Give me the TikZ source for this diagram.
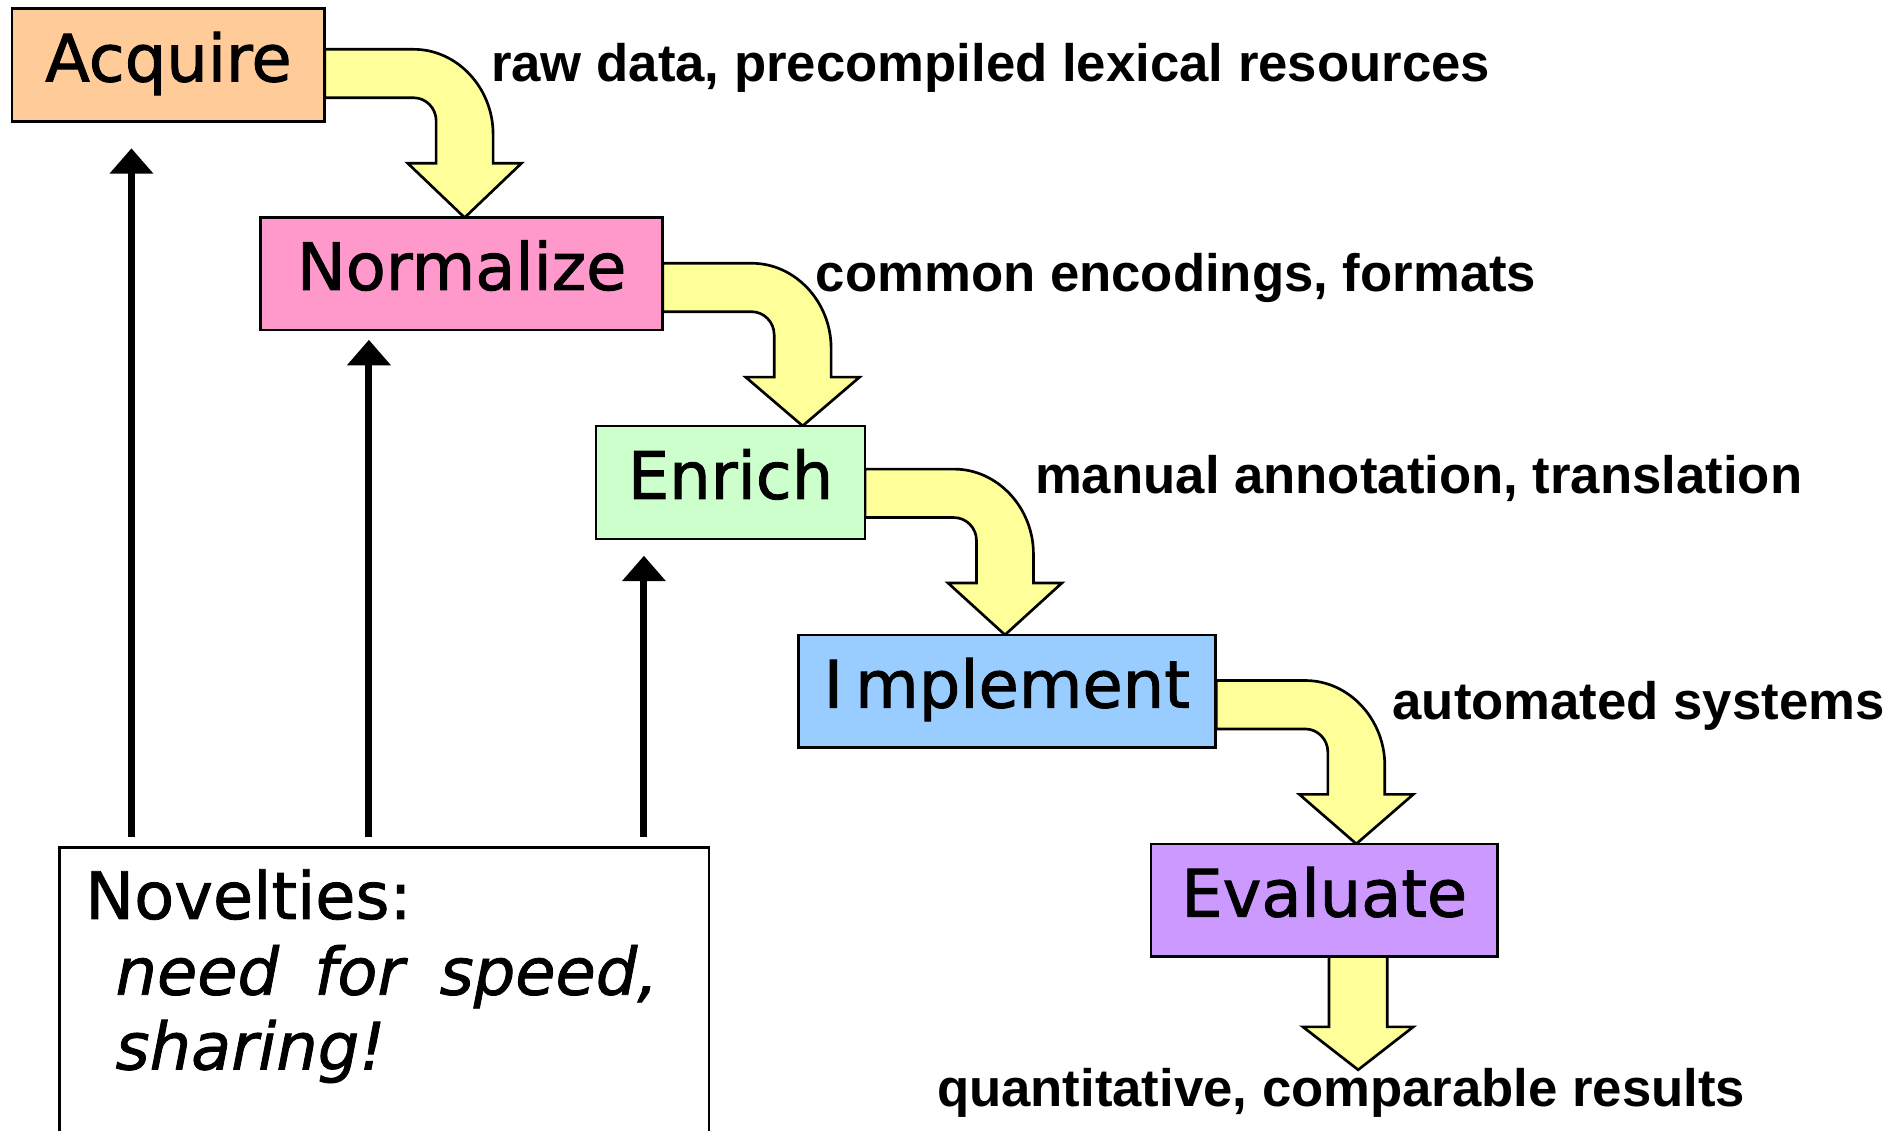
\documentclass[tikz,border=0pt]{standalone}
\usepackage{fontspec}
\setmainfont{DejaVu Sans}[FakeBold=1.4]
\newfontfamily\boxfont{DejaVu Sans}[FakeBold=1.4]
\newfontfamily\novfont{DejaVu Sans}[FakeBold=1.2, WordSpace=1.7]
\newfontfamily\lblfont{Liberation Sans}
\usetikzlibrary{arrows.meta}

\definecolor{acqc}{HTML}{FFCC99}
\definecolor{normc}{HTML}{FF99CC}
\definecolor{enrc}{HTML}{CCFFCC}
\definecolor{impc}{HTML}{99CCFF}
\definecolor{evac}{HTML}{CC99FF}
\definecolor{yelc}{HTML}{FFFF99}

% bent fat arrow: #1 = x of box right edge, #2 = y of band top, #3 = y of tip
\newcommand\bendarrow[3]{%
  \pgfmathsetmacro\bxs{#1+73.5}%
  \pgfmathsetmacro\bxo{#1+139}%
  \pgfmathsetmacro\bxi{#1+92}%
  \pgfmathsetmacro\bxc{#1+115.5}%
  \pgfmathsetmacro\byb{#2+40}%
  \pgfmathsetmacro\byo{#2+70}%
  \pgfmathsetmacro\byi{#2+59}%
  \pgfmathsetmacro\bys{#2+94}%
  \draw[yarrow] (#1,#2) -- (\bxs,#2)
     .. controls (\bxs+36,#2) and (\bxo,\byo-38) .. (\bxo,\byo)
     -- (\bxo,\bys) -- (\bxc+47,\bys) -- (\bxc,#3) -- (\bxc-47,\bys)
     -- (\bxi,\bys) -- (\bxi,\byi)
     .. controls (\bxi,\byb+8.5) and (\bxs+10,\byb) .. (\bxs,\byb)
     -- (#1,\byb) -- cycle;
}

\begin{document}
\begin{tikzpicture}[x=0.5pt,y=-0.5pt,
  box/.style={draw, line width=1.1pt, inner sep=0pt, text height=30pt,
    text depth=16.5pt, minimum height=46.5pt,
    font=\fontsize{27pt}{32pt}\selectfont\boxfont},
  lbl/.style={anchor=base west, inner sep=0pt,
    font=\fontsize{21.75pt}{26pt}\selectfont\lblfont\bfseries},
  yarrow/.style={draw, fill=yelc, line width=1.1pt, line join=miter},
  uparrow/.style={line width=2.9pt, -{Triangle[width=17.5pt,length=10.5pt]}},
  novtxt/.style={anchor=base west, inner sep=0pt,
    font=\fontsize{27pt}{32pt}\selectfont\novfont},
  novit/.style={anchor=base west, inner sep=0pt,
    font=\fontsize{27pt}{32pt}\selectfont\novfont\itshape}
]
\useasboundingbox (0,0) rectangle (1560,932.7);
\clip (0,0) rectangle (1560,932.7);
\fill[white] (0,0) rectangle (1560,932.7);

% fat yellow arrows
\bendarrow{268}{40.7}{179.6}
\bendarrow{547}{217.3}{351.5}
\bendarrow{714}{387.2}{524}
\bendarrow{1004}{561.7}{696.5}
\draw[yarrow] (1097,789.5) -- (1097,847.6) -- (1075.5,847.6) -- (1121,883)
   -- (1166.5,847.6) -- (1145,847.6) -- (1145,789.5) -- cycle;

% boxes
\node[box, fill=acqc, minimum width=129pt] (acq) at (139,53.75) {Acquire};
\node[box, fill=normc, minimum width=166pt] (norm) at (381,225.8) {Normalize};
\node[box, fill=enrc, minimum width=111pt] (enr) at (603,398.25) {Enrich};
\node[box, fill=impc, minimum width=172pt] (imp) at (831,570.5) {I\kern5pt mplement};
\node[box, fill=evac, minimum width=143pt] (eva) at (1093,743) {Evaluate};

% labels
\node[lbl] (l1) at (405,67.4) {raw data, precompiled lexical resources};
\node[lbl] (l2) at (673,240.6) {common encodings, formats};
\node[lbl] (l3) at (854,407.6) {manual annotation, translation};
\node[lbl] (l4) at (1149,594) {automated systems};
\node[lbl, anchor=base] (l5) at (1107,913) {quantitative, comparable results};

% novelties box
\node[draw, line width=1pt, anchor=north west, minimum width=268pt,
      minimum height=150pt, inner sep=0pt] (nov) at (48,698.5) {};
\node[novtxt] (n1) at (70,758.5) {Novelties:};
\node[novit] (n2) at (95,821) {need for speed,};
\node[novit] (n3) at (95,882.75) {sharing!};

% black arrows
\coordinate (s1) at (108.5,691);
\coordinate (t1) at (108.5,122.4);
\coordinate (s2) at (304.5,691);
\coordinate (t2) at (304.5,280.5);
\coordinate (s3) at (531.5,691);
\coordinate (t3) at (531.5,458.7);
\draw[uparrow] (s1) -- (t1);
\draw[uparrow] (s2) -- (t2);
\draw[uparrow] (s3) -- (t3);
\end{tikzpicture}
\end{document}
